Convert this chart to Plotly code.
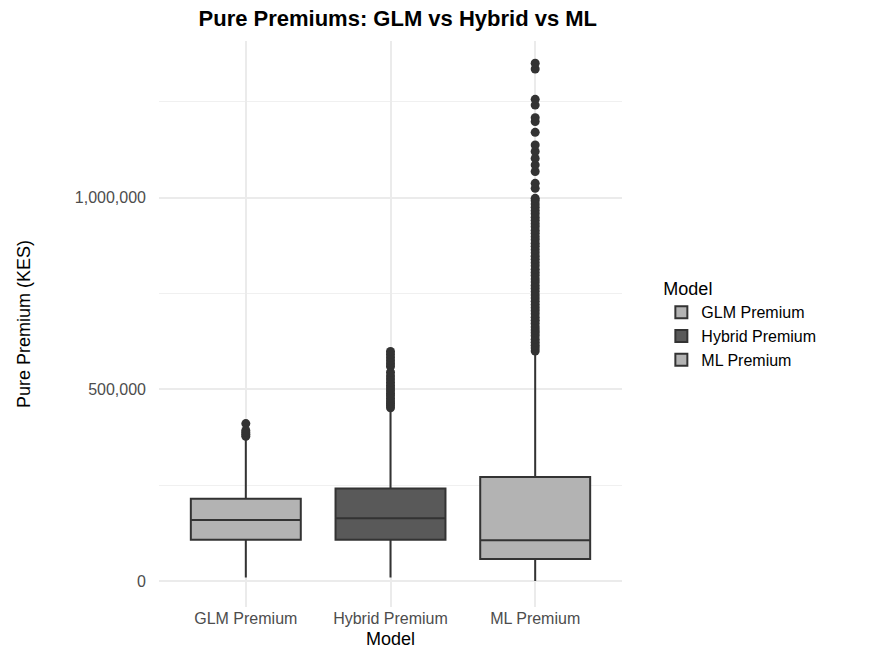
import plotly.graph_objects as go

# ---- data ----
models = ["GLM Premium", "Hybrid Premium", "ML Premium"]
q1 = [108000, 108000, 58000]
median = [160000, 164000, 107000]
q3 = [215000, 242000, 272000]
lower_whisker = [10000, 10000, 1000]
upper_whisker = [373000, 445000, 590000]

glm_outliers = [378000, 383000, 388000, 393000, 411000]
hybrid_outliers = [452000, 458000, 464000, 470000, 477000, 484000, 490000, 497000,
                   504000, 511000, 519000, 527000, 535000, 545000, 560000, 567000,
                   575000, 583000, 591000, 599000]
ml_outliers = [600000, 608000, 615000, 623000, 631000, 640000, 648000, 655000,
               663000, 672000, 680000, 688000, 697000, 705000, 713000, 721000,
               730000, 738000, 746000, 755000, 763000, 771000, 780000, 788000,
               797000, 805000, 813000, 822000, 830000, 839000, 847000, 856000,
               864000, 873000, 881000, 890000, 898000, 907000, 915000, 924000,
               932000, 941000, 949000, 958000, 966000, 975000, 983000, 992000,
               998000, 1024000, 1037000, 1068000, 1085000, 1102000, 1120000,
               1137000, 1170000, 1198000, 1208000, 1241000, 1256000, 1335000,
               1350000]
outliers = [glm_outliers, hybrid_outliers, ml_outliers]

fills = ["#B3B3B3", "#595959", "#B3B3B3"]
line_col = "#333333"

fig = go.Figure()
for i, m in enumerate(models):
    fig.add_trace(go.Box(
        x=[m], q1=[q1[i]], median=[median[i]], q3=[q3[i]],
        lowerfence=[lower_whisker[i]], upperfence=[upper_whisker[i]],
        name=m, fillcolor=fills[i], line=dict(color=line_col, width=2),
        whiskerwidth=0, width=0.76, boxpoints=False, showlegend=True,
        hoverinfo="skip",
    ))
for i, m in enumerate(models):
    fig.add_trace(go.Scatter(
        x=[m] * len(outliers[i]), y=outliers[i], mode="markers",
        marker=dict(color=line_col, size=9, line=dict(width=0)),
        showlegend=False, hoverinfo="skip",
    ))

font_family = "Liberation Sans, Arial, sans-serif"
fig.update_layout(
    width=884, height=649,
    paper_bgcolor="white", plot_bgcolor="white",
    margin=dict(l=159, r=262, t=41, b=42, autoexpand=False),
    boxmode="overlay",
    font=dict(family=font_family, color="#000000"),
    title=dict(text="<b>Pure Premiums: GLM vs Hybrid vs ML</b>",
               x=0.45, xref="container", xanchor="center",
               y=0.972, yref="container", yanchor="middle",
               font=dict(size=22, color="#000000", family=font_family)),
    xaxis=dict(
        type="category", categoryorder="array", categoryarray=models,
        range=[-0.6, 2.6], showgrid=True, gridcolor="#EBEBEB", gridwidth=2,
        zeroline=False, showline=False, ticks="",
        tickfont=dict(size=16, color="#4D4D4D"),
        title=dict(text="Model", font=dict(size=18, color="#000000"), standoff=6),
        automargin=False,
    ),
    yaxis=dict(
        range=[-67000, 1408000], tickvals=[0, 500000, 1000000],
        ticktext=["0", "500,000", "1,000,000"],
        showgrid=True, gridcolor="#EBEBEB", gridwidth=1.5,
        minor=dict(tickvals=[250000, 750000, 1250000], showgrid=True,
                   gridcolor="#F0F0F0", gridwidth=1),
        zeroline=False, showline=False, ticks="",
        tickfont=dict(size=16, color="#4D4D4D"), ticklabelstandoff=12,
        title=dict(text="Pure Premium (KES)", font=dict(size=18, color="#000000"),
                   standoff=39),
        automargin=False,
    ),
    legend=dict(
        title=dict(text="Model", font=dict(size=18, color="#000000")),
        x=1.085, xanchor="left", y=0.592, yanchor="top",
        font=dict(size=16, color="#000000"), bgcolor="rgba(0,0,0,0)",
        tracegroupgap=0, itemsizing="constant",
    ),
)

fig.write_html("out.html", config={"displayModeBar": False},
               post_script="document.body.style.margin='0px';")
